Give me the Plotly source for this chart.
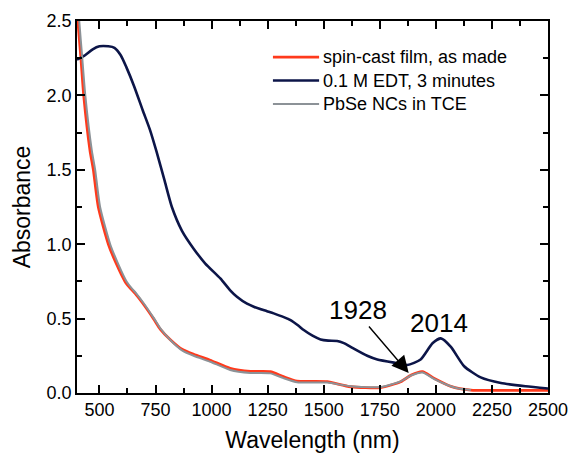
import plotly.graph_objects as go

# Wavelength (nm) / absorbance
wl_edt = [400, 436, 470, 500, 540, 567, 595, 620, 655, 693, 725, 755, 790, 823, 868, 920, 972, 1039, 1083, 1113,
          1158, 1188, 1247, 1277, 1322, 1352, 1385, 1411, 1450, 1486, 1520, 1560, 1590, 1620, 1694, 1739, 1828,
          1873, 1932, 1985, 2022, 2067, 2126, 2200, 2290, 2400, 2500]
abs_edt = [2.24, 2.27, 2.31, 2.33, 2.33, 2.32, 2.27, 2.19, 2.06, 1.90, 1.77, 1.62, 1.43, 1.25, 1.09, 0.97, 0.87, 0.77, 0.69, 0.647,
           0.60, 0.58, 0.55, 0.535, 0.51, 0.49, 0.455, 0.423, 0.385, 0.36, 0.352, 0.35, 0.335, 0.31, 0.25, 0.225, 0.20,
           0.188, 0.225, 0.334, 0.367, 0.31, 0.18, 0.105, 0.067, 0.045, 0.03]

wl_film = [398, 404, 418, 430, 458, 473, 495, 540, 575, 614, 640, 659, 690, 741, 771, 815, 868, 920, 994, 1083,
           1173, 1262, 1320, 1381, 1450, 1516, 1620, 1754, 1843, 1890, 1940, 1991, 2067, 2156, 2250, 2400, 2500]
abs_film = [2.65, 2.5, 2.24, 2.0, 1.63, 1.5, 1.25, 1.0, 0.87, 0.75, 0.70, 0.67, 0.61, 0.5, 0.43, 0.36, 0.294, 0.26, 0.22, 0.166,
            0.145, 0.143, 0.11, 0.08, 0.078, 0.076, 0.042, 0.036, 0.076, 0.12, 0.143, 0.10, 0.045, 0.02, 0.018, 0.018, 0.018]

wl_tce = [403, 410, 424, 437, 466, 481, 503, 548, 583, 621, 646, 664, 694, 744, 774, 817, 870, 920, 994, 1083,
          1173, 1262, 1320, 1381, 1450, 1516, 1620, 1754, 1843, 1890, 1940, 1991, 2051, 2100, 2156]
abs_tce = [2.65, 2.5, 2.24, 2.0, 1.63, 1.5, 1.25, 1.0, 0.87, 0.75, 0.70, 0.67, 0.61, 0.5, 0.43, 0.355, 0.285, 0.25, 0.21, 0.155,
           0.135, 0.132, 0.1, 0.072, 0.07, 0.07, 0.045, 0.04, 0.078, 0.118, 0.138, 0.095, 0.054, 0.03, 0.02]

series_names = ["spin-cast film, as made", "0.1 M EDT, 3 minutes", "PbSe NCs in TCE"]
series_colors = ["#ff3a1c", "#0c1548", "#8c9297"]

x_ticks = [500, 750, 1000, 1250, 1500, 1750, 2000, 2250, 2500]
y_ticks = [0.0, 0.5, 1.0, 1.5, 2.0, 2.5]

FONT = "Liberation Sans, Arial, sans-serif"

fig = go.Figure()
fig.add_trace(go.Scatter(x=wl_film, y=abs_film, mode="lines", name=series_names[0], showlegend=False,
                         line=dict(color=series_colors[0], width=2.8, shape="spline", smoothing=0.6)))
fig.add_trace(go.Scatter(x=wl_edt, y=abs_edt, mode="lines", name=series_names[1], showlegend=False,
                         line=dict(color=series_colors[1], width=2.6, shape="spline", smoothing=0.6)))
fig.add_trace(go.Scatter(x=wl_tce, y=abs_tce, mode="lines", name=series_names[2], showlegend=False,
                         line=dict(color=series_colors[2], width=2.0, shape="spline", smoothing=0.6)))

# legend drawn as line samples + text (paper coordinates)
leg_rows = [0.903, 0.840, 0.777]
leg_widths = [2.8, 2.6, 2.0]
for name, col, yy, w in zip(series_names, series_colors, leg_rows, leg_widths):
    fig.add_shape(type="line", xref="paper", yref="paper", x0=0.416, x1=0.514, y0=yy, y1=yy,
                  line=dict(color=col, width=w))
    fig.add_annotation(xref="paper", yref="paper", x=0.519, y=yy, xanchor="left", yanchor="middle",
                       text=name, showarrow=False, font=dict(family=FONT, size=18, color="black"))

fig.add_annotation(x=1879, y=0.134, ax=1696, ay=0.457, xref="x", yref="y", axref="x", ayref="y",
                   text="", showarrow=True, arrowhead=2, arrowsize=2.4, arrowwidth=1.4, arrowcolor="black")
fig.add_annotation(x=1655, y=0.56, xref="x", yref="y", text="1928", showarrow=False,
                   font=dict(family=FONT, size=26, color="black"))
fig.add_annotation(x=2013, y=0.47, xref="x", yref="y", text="2014", showarrow=False,
                   font=dict(family=FONT, size=26, color="black"))

axis_common = dict(showline=True, linecolor="black", linewidth=1.5, mirror="allticks",
                   ticks="inside", ticklen=8, tickwidth=2, tickcolor="#000000",
                   showgrid=False, zeroline=False, automargin=False,
                   tickfont=dict(family=FONT, size=18, color="black"))

fig.update_layout(
    width=571, height=453,
    margin=dict(l=77, r=23, t=21, b=60),
    plot_bgcolor="white", paper_bgcolor="white",
    showlegend=False,
    xaxis=dict(range=[400, 2500], tickmode="array", tickvals=x_ticks, ticktext=[str(v) for v in x_ticks],
               minor=dict(ticks="inside", ticklen=5, tickwidth=2, tickcolor="#000000",
                          tickmode="linear", tick0=x_ticks[0], dtick=(x_ticks[1] - x_ticks[0]) / 2),
               title=dict(text="Wavelength (nm)", font=dict(family=FONT, size=23, color="black"), standoff=16),
               **axis_common),
    yaxis=dict(range=[0, 2.5], tickmode="array", tickvals=y_ticks, ticktext=[f"{v:.1f}" for v in y_ticks],
               minor=dict(ticks="inside", ticklen=5, tickwidth=2, tickcolor="#000000",
                          tickmode="linear", tick0=y_ticks[0], dtick=(y_ticks[1] - y_ticks[0]) / 2),
               title=dict(text="Absorbance", font=dict(family=FONT, size=23, color="black"), standoff=10),
               **axis_common),
)

fig.write_html("out.html")
